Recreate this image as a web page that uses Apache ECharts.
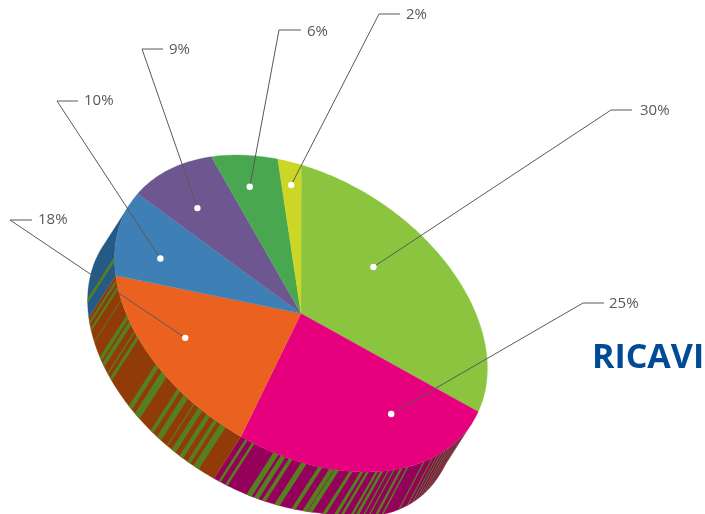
<!DOCTYPE html>
<html>
<head>
<meta charset="utf-8">
<style>html,body{margin:0;padding:0;background:#fff}#c{width:705px;height:514px}</style>
<script src="https://cdn.jsdelivr.net/npm/echarts@6/dist/echarts.min.js"></script>
</head>
<body>
<div id="c"></div>
<script>
// ---- data ----
const sliceLabels = ['30%', '25%', '18%', '10%', '9%', '6%', '2%'];
const sliceValues = [30, 25.2, 18, 9.8, 9, 6, 2];
const chartTitle = 'RICAVI';

// where the white dot of each label sits inside its slice (share of the pie, fraction of radius)
const dotShares = [11.2, 37.7, 66, 76.9, 86.7, 94.4, 99];
const dotRadii = [0.6, 0.694, 0.735, 0.76, 0.75, 0.8, 0.847];

// green bands seen on the wall of the pie, as [from, to] shares of the pie
const wallBands = [
  [32.4,32.6],[32.9,33.1],[33.4,33.6],[33.9,34.1],[34.4,34.6],[34.9,35.1],[35.3,35.5],[35.8,36],
  [36.3,36.5],[36.8,37],[37.4,37.6],[38.4,38.6],[40.2,40.4],[40.8,41.1],[41.6,41.75],[42.15,42.3],
  [42.7,43],[43.2,43.45],[44.05,44.3],[44.55,44.85],[45.5,45.8],[46.7,47.1],[47.15,47.55],[48.15,48.5],
  [49.5,49.95],[50.7,51],[51.3,51.7],[51.9,52.35],[54,54.2],[54.6,54.8],
  [56.6,57.1],[57.4,57.7],[58.1,58.45],[58.85,59.25],[59.65,59.75],[60.35,60.8],[61.2,61.5],
  [62.8,63.4],[63.8,64.2],[66.8,67.1],[67.45,67.6],[68.2,68.6],[68.8,69.2],[70.65,70.75],
  [71.8,72.1],[72.5,72.8],[74.7,75.2]
];

// ---- layout and style ----
const topColors = ['#8bc43f', '#e6007e', '#eb6120', '#3e80b6', '#6e5790', '#49a84f', '#cbd626'];
const wallColors = ['#6b9a2e', '#95005a', '#913c08', '#255a85', '#54406e', '#337a38', '#9aa31c'];
const bandColor = '#55801f';
const leaderLayout = [
  {elbow:[611,110], end:[632,110], text:[640,111]},
  {elbow:[583,303], end:[604,303], text:[609,304]},
  {elbow:[10,220],  end:[32,220],  text:[38,220]},
  {elbow:[57,101],  end:[78,101],  text:[84,101]},
  {elbow:[142,49],  end:[163,49],  text:[169,50]},
  {elbow:[279,30],  end:[301,30],  text:[307,32]},
  {elbow:[379,14],  end:[400,14],  text:[406,15]}
];
const cx = 301, cy = 313.5;
const axisA = [0.2, -148.6], axisB = [186.4, 55.1];   // tilted pie: image of the unit circle
const depth = [-27, 42];
const wallBulge = [2, 6], bulgeFrom = 31.4, bulgeTo = 46;  // wall is a little deeper at the lower right
const frontFrom = 31.4, frontTo = 81.4;               // part of the rim whose wall faces the viewer

const total = sliceValues.reduce((s, v) => s + v, 0);
function rim(share, r) {
  const t = share / total * 2 * Math.PI, rr = r === undefined ? 1 : r;
  return [
    cx + rr * (axisA[0] * Math.cos(t) + axisB[0] * Math.sin(t)),
    cy + rr * (axisA[1] * Math.cos(t) + axisB[1] * Math.sin(t))
  ];
}
function shares(from, to) {
  const n = Math.max(2, Math.ceil((to - from) * 4)), out = [];
  for (let i = 0; i <= n; i++) out.push(from + (to - from) * i / n);
  return out;
}
function arc(from, to) { return shares(from, to).map(s => rim(s)); }
function wallPolygon(from, to) {
  const list = shares(from, to);
  const outer = list.map(s => rim(s));
  const inner = list.map(s => {
    const p = rim(s);
    const w = s > bulgeFrom && s < bulgeTo ? Math.sin(Math.PI * (s - bulgeFrom) / (bulgeTo - bulgeFrom)) : 0;
    return [p[0] + depth[0] + wallBulge[0] * w, p[1] + depth[1] + wallBulge[1] * w];
  }).reverse();
  return outer.concat(inner);
}
const starts = [];
sliceValues.reduce((s, v, i) => { starts[i] = s; return s + v; }, 0);

const option = {
  animation: false,
  title: {
    text: chartTitle, left: 592, top: 341, padding: 0,
    textStyle: {fontFamily: '"Open Sans"', fontWeight: 'bold', fontSize: 34, color: '#004a96'}
  },
  series: [
    { // walls
      type: 'custom', coordinateSystem: 'none', silent: true, z: 1,
      data: sliceValues,
      renderItem(params) {
        const i = params.dataIndex;
        const from = Math.max(starts[i], frontFrom), to = Math.min(starts[i] + sliceValues[i], frontTo);
        if (to <= from) return null;
        const c = wallColors[i];
        return {type: 'polygon', shape: {points: wallPolygon(from, to)}, style: {fill: c, stroke: c, lineWidth: 0.3}};
      }
    },
    { // bands on the walls
      type: 'custom', coordinateSystem: 'none', silent: true, z: 2,
      data: wallBands,
      renderItem(params) {
        const b = wallBands[params.dataIndex];
        return {type: 'polygon', shape: {points: wallPolygon(b[0], b[1])}, style: {fill: bandColor}};
      }
    },
    { // top face
      type: 'custom', coordinateSystem: 'none', silent: true, z: 3,
      data: sliceValues,
      renderItem(params) {
        const i = params.dataIndex;
        const pts = arc(starts[i], starts[i] + sliceValues[i]);
        pts.push([cx, cy]);
        return {type: 'polygon', shape: {points: pts}, style: {fill: topColors[i], stroke: topColors[i], lineWidth: 0.3}};
      }
    },
    { // leaders and labels
      type: 'custom', coordinateSystem: 'none', silent: true, z: 4,
      data: sliceLabels,
      renderItem(params) {
        const i = params.dataIndex, L = leaderLayout[i];
        const dot = rim(dotShares[i], dotRadii[i]);
        return {type: 'group', children: [
          {type: 'polyline', shape: {points: [dot, L.elbow, L.end]}, style: {fill: null, stroke: '#58595b', lineWidth: 1}},
          {type: 'circle', shape: {cx: dot[0], cy: dot[1], r: 3.2}, style: {fill: '#ffffff'}},
          {type: 'text', x: L.text[0], y: L.text[1], style: {
            text: sliceLabels[i], fill: '#58595b', font: '15px "Open Sans"', align: 'left', verticalAlign: 'middle'
          }}
        ]};
      }
    }
  ]
};
echarts.init(document.getElementById('c'), null, {renderer: 'canvas'}).setOption(option);
</script>
</body>
</html>
